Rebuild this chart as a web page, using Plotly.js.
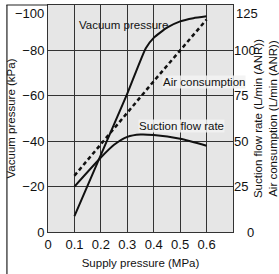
<!DOCTYPE html>
<html><head><meta charset="utf-8">
<script src="https://cdn.plot.ly/plotly-3.0.1.min.js"></script>
<style>html,body{margin:0;padding:0;background:#fff}#c{width:279px;height:274px}</style>
</head><body><div id="c"></div>
<script>
const vacX = [0.1, 0.2, 0.3, 0.37, 0.4, 0.45, 0.5, 0.55, 0.6];
const vacY = [-7, -34, -61, -81, -85.5, -90, -92.8, -94.2, -95];
const sucX = [0.1, 0.2, 0.25, 0.3, 0.35, 0.4, 0.5, 0.6];
const sucY = [25, 41, 48, 52.4, 53.7, 53.4, 51.3, 47.5];
const airX = [0.1, 0.2, 0.3, 0.4, 0.5, 0.6];
const airY = [31, 48.5, 66, 83, 100, 117];
const xTicks = [0, 0.1, 0.2, 0.3, 0.4, 0.5, 0.6];
const yTicks = [0, -20, -40, -60, -80, -100];
const y2Ticks = [0, 25, 50, 75, 100, 125];

const F = 'Liberation Sans, Arial, sans-serif';
const yMax = yTicks[yTicks.length - 1];
const y2Min = y2Ticks[0];
const y2Max = y2Ticks[y2Ticks.length - 1];
const traces = [
  {x: vacX, y: vacY, mode: 'lines', line: {color: '#111', width: 2, shape: 'spline', smoothing: 0.5}, yaxis: 'y', hoverinfo: 'none'},
  {x: sucX, y: sucY, mode: 'lines', line: {color: '#111', width: 2, shape: 'spline', smoothing: 0.6}, yaxis: 'y2', hoverinfo: 'none'},
  {x: airX, y: airY, mode: 'lines', line: {color: '#111', width: 2.5, dash: '4px,3px'}, yaxis: 'y2', hoverinfo: 'none'}
];
const layout = {
  width: 279, height: 274,
  margin: {l: 48, r: 46, t: 5, b: 42},
  paper_bgcolor: '#fff', plot_bgcolor: '#e6e6e6',
  showlegend: false,
  font: {family: F, size: 13, color: '#111'},
  xaxis: {range: [0, 0.7], tickvals: xTicks, ticktext: xTicks.map(v => v === 0 ? '0' : v.toFixed(1)),
    showgrid: true, gridcolor: '#333', gridwidth: 1, zeroline: false, ticklabeloverflow: 'allow',
    showline: true, linecolor: '#333', linewidth: 1, mirror: true, ticks: '', ticklen: 0,
    tickfont: {size: 13}, title: {text: 'Supply pressure (MPa)', font: {size: 11.5}, standoff: 8}},
  yaxis: {range: [0, -100], tickvals: yTicks, ticktext: yTicks.map(v => v === yMax ? '' : (v === 0 ? '0' : '\u2212' + Math.abs(v))),
    showgrid: true, gridcolor: '#333', gridwidth: 1, zeroline: false, ticklabeloverflow: 'allow',
    showline: true, linecolor: '#333', linewidth: 1, mirror: true, ticks: '',
    tickfont: {size: 13}, title: {text: 'Vacuum pressure (kPa)', font: {size: 11.5}, standoff: 4}},
  yaxis2: {overlaying: 'y', side: 'right', range: [0, 125], tickvals: y2Ticks, ticktext: y2Ticks.map(v => (v === y2Max || v === y2Min) ? '' : String(v)),
    showgrid: false, zeroline: false, ticklabeloverflow: 'allow',
    ticks: '', tickfont: {size: 13},
    title: {text: 'Suction flow rate (L/min (ANR))<br>Air consumption (L/min (ANR))', font: {size: 11.5}, standoff: 5}},
  annotations: [
    {x: 0, y: yMax, xref: 'paper', yref: 'y', text: '\u2212' + Math.abs(yMax), showarrow: false, xanchor: 'right', yanchor: 'top', xshift: -2, yshift: 1, font: {size: 13}},
    {x: 1, y: y2Max, xref: 'paper', yref: 'y2', text: String(y2Max), showarrow: false, xanchor: 'left', yanchor: 'top', xshift: 1, yshift: 1, font: {size: 13}},
    {x: 1, y: y2Min, xref: 'paper', yref: 'y2', text: String(y2Min), showarrow: false, xanchor: 'left', yanchor: 'middle', xshift: 12, yshift: 0, font: {size: 13}},
    {x: 0.11, y: -91, xref: 'x', yref: 'y', text: 'Vacuum pressure', showarrow: false, xanchor: 'left', yanchor: 'middle', font: {size: 11.5}},
    {x: 0.432, y: -66, xref: 'x', yref: 'y', text: 'Air consumption', showarrow: false, xanchor: 'left', yanchor: 'middle', font: {size: 11.5}, bgcolor: 'rgba(242,242,242,0.85)', borderpad: 0},
    {x: 0.34, y: -46.5, xref: 'x', yref: 'y', text: 'Suction flow rate', showarrow: false, xanchor: 'left', yanchor: 'middle', font: {size: 11.5}, bgcolor: 'rgba(242,242,242,0.85)', borderpad: 0}
  ],
  shapes: [
    {type: 'line', layer: 'above', xref: 'paper', yref: 'paper', x0: -0.225, x1: 0, y0: 1, y1: 1, line: {color: '#222', width: 1.2}},
    {type: 'line', layer: 'above', xref: 'paper', yref: 'paper', x0: -0.222, x1: -0.222, y0: 1, y1: -0.2, line: {color: '#222', width: 1.2}}
  ]
};
Plotly.newPlot('c', traces, layout, {staticPlot: true, displayModeBar: false});
</script></body></html>
